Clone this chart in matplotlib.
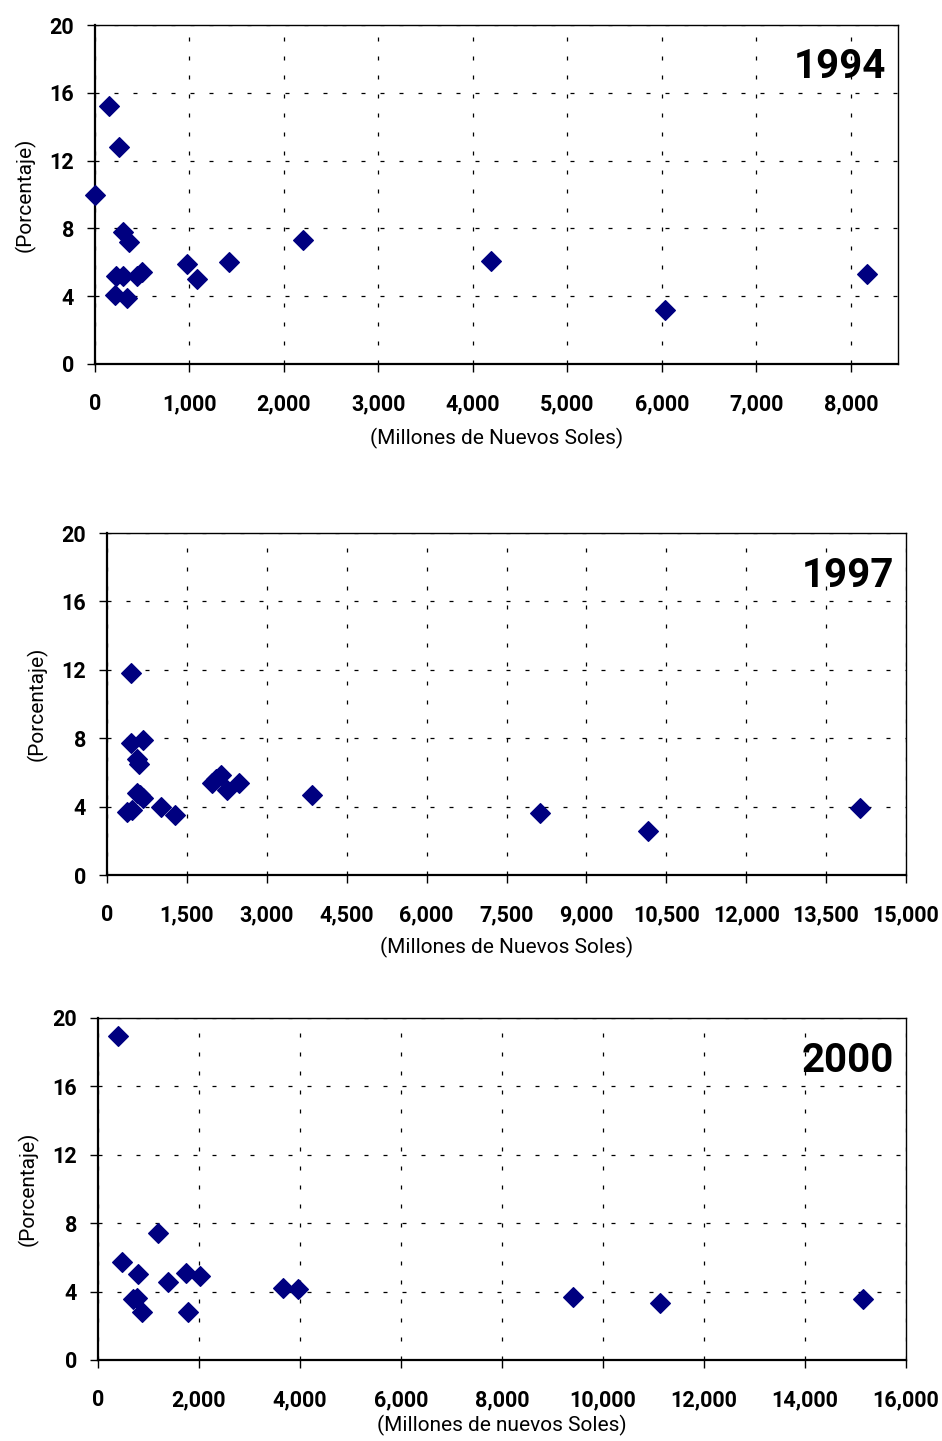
import matplotlib
matplotlib.use("Agg")
import matplotlib.pyplot as plt
from matplotlib.ticker import FuncFormatter

plt.rcParams['font.family'] = ['Roboto', 'DejaVu Sans']

# 1994
x94 = [148, 254, 0, 293, 356, 970, 1418, 2198, 1079, 222, 300, 441, 501, 212, 342, 4190, 6032, 8169]
y94 = [15.2, 12.8, 10.0, 7.8, 7.2, 5.9, 6.0, 7.3, 5.0, 5.2, 5.2, 5.2, 5.4, 4.1, 3.9, 6.1, 3.2, 5.3]

# 1997
x97 = [444, 444, 681, 556, 606, 556, 669, 619, 463, 381, 1006, 1275, 1963, 2131, 2256, 2481, 2040, 3857, 8138, 10163, 14138]
y97 = [11.8, 7.7, 7.9, 6.8, 6.5, 4.8, 4.5, 4.7, 3.8, 3.7, 4.0, 3.5, 5.4, 5.85, 5.0, 5.4, 5.6, 4.7, 3.6, 2.6, 3.9]

# 2000
x00 = [390, 1182, 469, 786, 1380, 1737, 2020, 687, 766, 865, 1776, 3670, 3954, 9406, 11129, 15149]
y00 = [18.96, 7.4, 5.75, 5.03, 4.58, 5.07, 4.9, 3.55, 3.6, 2.79, 2.79, 4.23, 4.13, 3.68, 3.33, 3.57]

panels = [
    ("1994", x94, y94, 8500, 1000, 8000, "(Millones de Nuevos Soles)", [95, 25, 898, 364], 9),
    ("1997", x97, y97, 15000, 1500, 15000, "(Millones de Nuevos Soles)", [107, 533, 906, 875], 8),
    ("2000", x00, y00, 16000, 2000, 16000, "(Millones de nuevos Soles)", [98, 1018, 906, 1360], 3),
]

W, H = 942, 1441
fig = plt.figure(figsize=(W / 100, H / 100), dpi=100)
fmt = FuncFormatter(lambda v, p: f"{int(v):,}")

for year, xs, ys, xmax, step, last, xlabel, (l, t, r, b), lpad in panels:
    ax = fig.add_axes([l / W, (H - b) / H, (r - l) / W, (b - t) / H])
    ax.scatter(xs, ys, marker='D', s=100, color='#000080', zorder=3, clip_on=False)
    ax.set_xlim(0, xmax)
    ax.set_ylim(0, 20)
    ax.set_xticks(range(0, last + 1, step))
    ax.set_yticks(range(0, 21, 4))
    ax.xaxis.set_major_formatter(fmt)
    ax.grid(True, color='black', linestyle=(0, (3.2, 12)), linewidth=0.9)
    ax.tick_params(direction='out', length=6, width=1, labelsize=15.5)
    ax.tick_params(axis='x', pad=15)
    ax.tick_params(axis='y', pad=9)
    for lab in ax.get_xticklabels() + ax.get_yticklabels():
        lab.set_fontweight('bold')
    for side in ['top', 'right']:
        ax.spines[side].set_linewidth(1.0)
    for side in ['left', 'bottom']:
        ax.spines[side].set_linewidth(1.6)
    ax.set_xlabel(xlabel, fontsize=15, labelpad=lpad)
    ax.set_ylabel("(Porcentaje)", fontsize=15, labelpad=10)
    ax.text(0.985, 0.875, year, transform=ax.transAxes, ha='right', va='center',
            fontsize=29, fontweight='bold')

fig.savefig("out.png", dpi=100)
